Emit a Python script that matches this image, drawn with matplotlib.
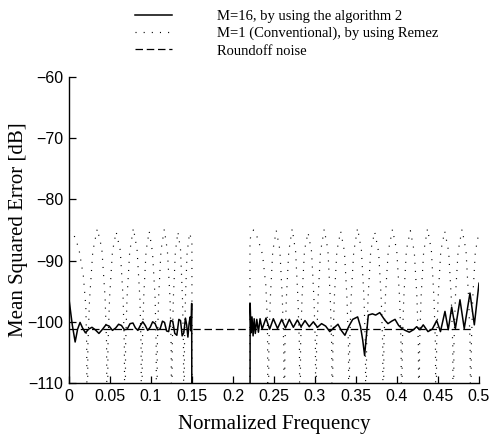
import numpy as np
import matplotlib
matplotlib.use("Agg")
import matplotlib.pyplot as plt
from matplotlib.lines import Line2D

# ---- data ----
# M=16, algorithm 2 (solid)
alg2_pass_f = [0.000, 0.004, 0.0075, 0.0105, 0.0135, 0.0165, 0.0200, 0.0240, 0.0280, 0.0320,
               0.0365, 0.0410, 0.0450, 0.0490, 0.0530, 0.0570, 0.0605, 0.0640, 0.0675, 0.0710,
               0.0745, 0.0780, 0.0810, 0.0840, 0.0870, 0.0900, 0.0930, 0.0960, 0.0990, 0.1020,
               0.1050, 0.1080, 0.1110, 0.1140, 0.1165, 0.1190, 0.1215, 0.1240, 0.1265, 0.1290,
               0.1315, 0.1340, 0.1360, 0.1380, 0.1400, 0.1420, 0.1435, 0.1450, 0.1465, 0.1478,
               0.1488, 0.1496, 0.1500]
alg2_pass_db = [-96.3, -100.5, -103.3, -101.2, -100.1, -101.0, -101.8, -101.2, -100.9, -101.3,
                -101.9, -101.2, -100.5, -100.7, -101.4, -101.0, -100.4, -100.6, -101.3, -101.2,
                -100.3, -100.2, -101.0, -101.4, -100.6, -100.0, -100.6, -101.4, -100.9, -100.0,
                -100.3, -101.3, -101.2, -99.9, -100.1, -101.5, -101.6, -99.8, -99.9, -101.9,
                -102.2, -99.6, -99.8, -102.3, -101.8, -99.4, -100.5, -102.5, -100.2, -99.2,
                -101.5, -97.0, -130.0]
alg2_stop_f = [0.2207, 0.2209, 0.2220, 0.2232, 0.2245, 0.2258, 0.2272, 0.2290, 0.2310, 0.2330,
               0.2355, 0.2402, 0.2447, 0.2492, 0.2543, 0.2594, 0.2640, 0.2687, 0.2736, 0.2785,
               0.2830, 0.2878, 0.2930, 0.2980, 0.3030, 0.3080, 0.3130, 0.3180, 0.3230, 0.3280,
               0.3320, 0.3365, 0.3410, 0.3460, 0.3520, 0.3555, 0.3582, 0.3605, 0.3625, 0.3650,
               0.3700, 0.3740, 0.3790, 0.3850, 0.3890, 0.3935, 0.3976, 0.4020, 0.4060, 0.4100,
               0.4150, 0.4200, 0.4240, 0.4280, 0.4320, 0.4378, 0.4430, 0.4484, 0.4530, 0.4585,
               0.4625, 0.4667, 0.4712, 0.4768, 0.4820, 0.4890, 0.4943, 0.5000]
alg2_stop_db = [-130.0, -97.0, -101.8, -99.2, -102.3, -99.5, -101.9, -99.6, -101.7, -99.5,
                -101.2, -99.4, -101.2, -99.5, -101.1, -99.6, -101.0, -99.6, -100.9, -99.7,
                -100.8, -99.8, -100.8, -100.0, -100.9, -100.3, -100.7, -101.6, -101.0, -100.4,
                -101.4, -102.2, -100.8, -99.6, -99.2, -100.8, -103.0, -105.5, -102.5, -98.9,
                -98.7, -98.9, -98.5, -99.7, -100.3, -99.9, -99.6, -100.6, -101.1, -101.4,
                -101.7, -101.3, -100.8, -101.3, -100.5, -101.6, -101.2, -99.8, -101.6, -98.3,
                -101.3, -97.6, -101.1, -96.4, -101.1, -95.3, -100.5, -93.7]

# M=1 (Conventional), Remez (dotted)
remez_pass_f = [0.0000, 0.0060, 0.0120, 0.0175, 0.0205, 0.0216, 0.0223,
                0.0230, 0.0250, 0.0290, 0.0345, 0.0400, 0.0440, 0.0458, 0.0467,
                0.0475, 0.0495, 0.0530, 0.0575, 0.0625, 0.0660, 0.0675, 0.0683,
                0.0690, 0.0708, 0.0740, 0.0785, 0.0830, 0.0865, 0.0879, 0.0887,
                0.0894, 0.0911, 0.0940, 0.0978, 0.1018, 0.1050, 0.1063, 0.1070,
                0.1077, 0.1093, 0.1122, 0.1162, 0.1200, 0.1232, 0.1246, 0.1253,
                0.1259, 0.1273, 0.1297, 0.1328, 0.1360, 0.1384, 0.1396, 0.1402,
                0.1408, 0.1420, 0.1440, 0.1470, 0.1492, 0.1499, 0.1500]
remez_pass_db = [-85.0, -85.8, -88.0, -92.5, -97.5, -104.0, -125.0,
                 -104.0, -96.5, -88.5, -84.8, -88.0, -96.0, -103.5, -125.0,
                 -104.0, -96.0, -88.5, -85.3, -88.3, -96.2, -104.0, -125.0,
                 -104.0, -96.0, -88.6, -84.7, -88.2, -96.3, -104.0, -125.0,
                 -104.0, -96.0, -88.4, -85.2, -88.6, -96.1, -104.0, -125.0,
                 -104.0, -96.0, -88.3, -84.9, -88.4, -96.2, -104.0, -125.0,
                 -104.0, -96.0, -88.6, -85.3, -88.2, -96.3, -104.0, -125.0,
                 -104.0, -96.0, -88.8, -85.5, -86.5, -86.8, -125.0]
remez_stop_f = [0.2206, 0.2207, 0.2250, 0.2300, 0.2360, 0.2400, 0.2420, 0.2430,
                0.2437, 0.2455, 0.2485, 0.2528, 0.2571, 0.2601, 0.2619, 0.2626,
                0.2633, 0.2651, 0.2680, 0.2722, 0.2764, 0.2792, 0.2810, 0.2817,
                0.2824, 0.2842, 0.2872, 0.2915, 0.2958, 0.2987, 0.3005, 0.3012,
                0.3019, 0.3037, 0.3067, 0.3112, 0.3157, 0.3186, 0.3204, 0.3211,
                0.3218, 0.3236, 0.3267, 0.3313, 0.3359, 0.3390, 0.3408, 0.3415,
                0.3422, 0.3440, 0.3472, 0.3519, 0.3566, 0.3597, 0.3615, 0.3622,
                0.3629, 0.3647, 0.3680, 0.3728, 0.3776, 0.3808, 0.3826, 0.3833,
                0.3840, 0.3858, 0.3893, 0.3945, 0.3997, 0.4032, 0.4050, 0.4057,
                0.4064, 0.4082, 0.4115, 0.4163, 0.4211, 0.4243, 0.4261, 0.4268,
                0.4275, 0.4293, 0.4325, 0.4372, 0.4419, 0.4451, 0.4469, 0.4476,
                0.4483, 0.4501, 0.4534, 0.4582, 0.4630, 0.4662, 0.4680, 0.4687,
                0.4694, 0.4712, 0.4745, 0.4793, 0.4841, 0.4874, 0.4892, 0.4899,
                0.4906, 0.4924, 0.4955, 0.5000]
remez_stop_db = [-125.0, -86.5, -85.0, -86.3, -89.0, -94.0, -100.0, -125.0,
                 -104.0, -96.2, -88.4, -85.1, -88.2, -96.0, -104.0, -125.0,
                 -104.0, -96.1, -88.5, -84.8, -88.6, -96.3, -104.0, -125.0,
                 -104.0, -96.0, -88.3, -85.4, -88.5, -96.2, -104.0, -125.0,
                 -104.0, -96.3, -88.6, -84.9, -88.2, -96.1, -104.0, -125.0,
                 -104.0, -96.0, -88.4, -85.2, -88.5, -96.2, -104.0, -125.0,
                 -104.0, -96.2, -88.6, -84.7, -88.3, -96.0, -104.0, -125.0,
                 -104.0, -96.1, -88.3, -85.3, -88.6, -96.3, -104.0, -125.0,
                 -104.0, -96.0, -88.5, -84.9, -88.4, -96.2, -104.0, -125.0,
                 -104.0, -96.3, -88.2, -85.1, -88.6, -96.0, -104.0, -125.0,
                 -104.0, -96.1, -88.6, -84.8, -88.3, -96.2, -104.0, -125.0,
                 -104.0, -96.2, -88.4, -85.2, -88.5, -96.1, -104.0, -125.0,
                 -104.0, -96.0, -88.5, -84.9, -88.3, -96.3, -104.0, -125.0,
                 -104.0, -96.1, -88.6, -85.3]

# Roundoff noise (dashed)
noise_f = [0.0, 0.49]
noise_db = [-101.1, -101.1]

legend_labels = ["M=16, by using the algorithm 2",
                 "M=1 (Conventional), by using Remez",
                 "Roundoff noise"]
xticks = [0, 0.05, 0.1, 0.15, 0.2, 0.25, 0.3, 0.35, 0.4, 0.45, 0.5]
xticklabels = ["0", "0.05", "0.1", "0.15", "0.2", "0.25", "0.3", "0.35", "0.4", "0.45", "0.5"]
yticks = [-110, -100, -90, -80, -70, -60]
yticklabels = ["\u2212110", "\u2212100", "\u221290", "\u221280", "\u221270", "\u221260"]

# ---- plot ----
serif = "Liberation Serif"
sans = "Liberation Sans"

fig = plt.figure(figsize=(4.93, 4.41), dpi=100)
ax = fig.add_axes([69/493, 1-383/441, 410/493, 306/441])

dot_style = dict(color="black", lw=0.85, linestyle=(0, (0.9, 6.0)))
solid_style = dict(color="black", lw=1.1)
dash_style = dict(color="black", lw=0.9, linestyle=(0, (6, 3)))

ax.plot(remez_pass_f + [np.nan] + remez_stop_f,
        remez_pass_db + [np.nan] + remez_stop_db, **dot_style)
ax.plot(noise_f, noise_db, **dash_style)
ax.plot(alg2_pass_f + [np.nan] + alg2_stop_f,
        alg2_pass_db + [np.nan] + alg2_stop_db, **solid_style)

ax.set_xlim(0, 0.5)
ax.set_ylim(-110, -60)
ax.set_xticks(xticks)
ax.set_xticklabels(xticklabels, fontfamily=sans, fontsize=11.5)
ax.set_yticks(yticks)
ax.set_yticklabels(yticklabels, fontfamily=sans, fontsize=11.5)
ax.tick_params(direction="in", length=5, width=0.9, pad=4)
for s in ["top", "right"]:
    ax.spines[s].set_visible(False)
for s in ["left", "bottom"]:
    ax.spines[s].set_linewidth(1.0)

ax.set_xlabel("Normalized Frequency", fontfamily=serif, fontsize=15)
ax.set_ylabel("Mean Squared Error [dB]", fontfamily=serif, fontsize=15)
ax.xaxis.set_label_coords(0.5, -0.105)
ax.yaxis.set_label_coords(-0.10, 0.5)

handles = [Line2D([], [], **solid_style),
           Line2D([], [], **dot_style),
           Line2D([], [], **dash_style)]
fig.legend(handles, legend_labels, loc="upper left", bbox_to_anchor=(134/493, 1 - 8/441),
           frameon=False, prop={"family": serif, "size": 10.5},
           handlelength=2.5, handletextpad=3.1, labelspacing=0.28, borderaxespad=0.0,
           borderpad=0.1)

fig.savefig("out.png", dpi=100)
